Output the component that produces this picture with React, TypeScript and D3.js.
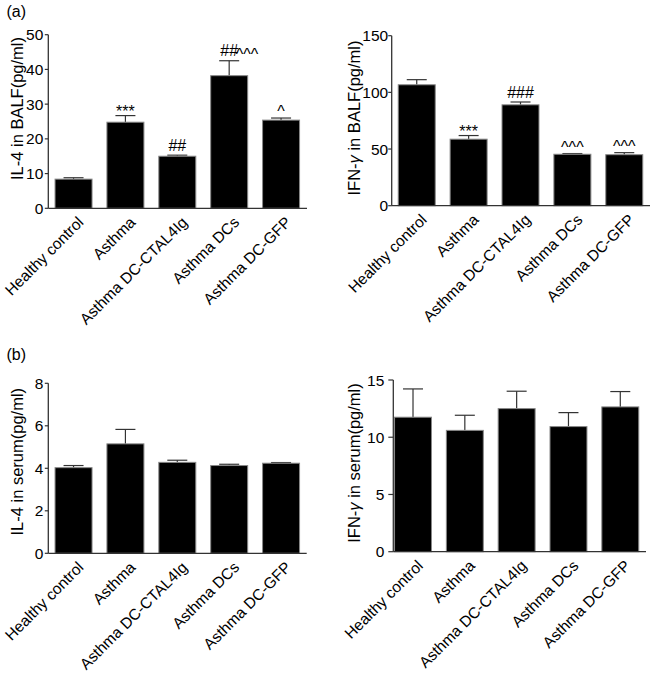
import React from 'react';
import * as d3 from 'd3';

const categories = ["Healthy control", "Asthma", "Asthma DC-CTAL4Ig", "Asthma DCs", "Asthma DC-GFP"];

const il4BalfMean = [8.4, 24.8, 15.0, 38.2, 25.4];
const il4BalfErr = [0.4, 1.9, 0.3, 4.3, 0.6];
const il4BalfMarks = ["", "***", "##", "##^^^", "^"];
const il4BalfTicks = [0, 10, 20, 30, 40, 50];

const ifnBalfMean = [106.7, 58.7, 89.0, 45.4, 45.0];
const ifnBalfErr = [4.5, 3.2, 2.5, 0.6, 1.8];
const ifnBalfMarks = ["", "***", "###", "^^^", "^^^"];
const ifnBalfTicks = [0, 50, 100, 150];

const il4SerumMean = [4.03, 5.15, 4.28, 4.13, 4.24];
const il4SerumErr = [0.1, 0.68, 0.1, 0.06, 0.03];
const il4SerumMarks = ["", "", "", "", ""];
const il4SerumTicks = [0, 2, 4, 6, 8];

const ifnSerumMean = [11.75, 10.6, 12.5, 10.93, 12.65];
const ifnSerumErr = [2.47, 1.32, 1.52, 1.22, 1.34];
const ifnSerumMarks = ["", "", "", "", ""];
const ifnSerumTicks = [0, 5, 10, 15];

const FONT = "'Liberation Sans', Arial, Helvetica, sans-serif";

type PanelProps = {
  axisX: number; axisEnd: number; y0: number; yTop: number;
  bandStart: number; bandEnd: number;
  ticks: number[]; means: number[]; errs: number[]; marks: string[];
  label: React.ReactNode; labelX: number; labelY: number;
  tickLen: number; tickGap: number;
};

function Marks({ text, x, base }: { text: string; x: number; base: number }) {
  if (!text) return null;
  const runs = text.match(/(\^+|\*+|#+)/g) || [];
  const shift = (r: string) => (r[0] === '*' ? 6 : r[0] === '^' ? 3.5 : 0);
  return (
    <text x={x} y={base} textAnchor="middle" fontSize={16} fontFamily={FONT} fill="#000">
      {runs.map((r, i) => (
        <tspan key={i} y={base + shift(r)}>{r}</tspan>
      ))}
    </text>
  );
}

function Panel(p: PanelProps) {
  const x = d3.scaleBand<string>().domain(categories).range([p.bandStart, p.bandEnd])
    .paddingInner(0.287).paddingOuter(0.1435);
  const max = p.ticks[p.ticks.length - 1];
  const y = d3.scaleLinear().domain([0, max]).range([p.y0, p.yTop]);
  const bw = x.bandwidth();
  return (
    <g>
      {categories.map((c, i) => {
        const cx = (x(c) as number) + bw / 2;
        const top = y(p.means[i]);
        const cap = y(p.means[i] + p.errs[i]);
        return (
          <g key={c}>
            <line x1={cx} x2={cx} y1={top} y2={cap} stroke="#333" strokeWidth={1.2} />
            <line x1={cx - 10} x2={cx + 10} y1={cap} y2={cap} stroke="#333" strokeWidth={1.2} />
            <rect x={x(c)} y={top} width={bw} height={p.y0 - top} fill="#000" stroke="#888" strokeWidth={1} />
            <Marks text={p.marks[i]} x={cx} base={cap - 4.5} />
            <text transform={`translate(${cx + 11},${p.y0 + 15}) rotate(-45)`} textAnchor="end"
              fontSize={15.5} fontFamily={FONT} fill="#000">{c}</text>
          </g>
        );
      })}
      <line x1={p.axisX} x2={p.axisEnd} y1={p.y0} y2={p.y0} stroke="#333" strokeWidth={1.3} />
      <line x1={p.axisX} x2={p.axisX} y1={p.y0} y2={y(max)} stroke="#333" strokeWidth={1.3} />
      {p.ticks.map(t => (
        <g key={t}>
          <line x1={p.axisX - p.tickLen} x2={p.axisX} y1={y(t)} y2={y(t)} stroke="#333" strokeWidth={1.2} />
          <text x={p.axisX - p.tickGap} y={y(t)} dy="0.36em" textAnchor="end" fontSize={15.5}
            fontFamily={FONT} fill="#000">{t}</text>
        </g>
      ))}
      <text transform={`translate(${p.labelX},${p.labelY}) rotate(-90)`} textAnchor="middle"
        fontSize={16.5} fontFamily={FONT} fill="#000">{p.label}</text>
    </g>
  );
}

export default function App() {
  return (
    <svg width={650} height={680} style={{ position: 'absolute', left: 0, top: 0, background: '#fff' }}>
      <rect width={650} height={680} fill="#fff" />
      <text x={6.5} y={17} fontSize={16} fontFamily={FONT}>(a)</text>
      <text x={6.5} y={359.5} fontSize={16} fontFamily={FONT}>(b)</text>
      <Panel axisX={48.3} axisEnd={307} y0={208.3} yTop={34.7} bandStart={47.6} bandEnd={307}
        ticks={il4BalfTicks} means={il4BalfMean} errs={il4BalfErr} marks={il4BalfMarks}
        label={"IL-4 in BALF(pg/ml)"} labelX={22.5} labelY={108.5} tickLen={3.5} tickGap={5} />
      <Panel axisX={391.7} axisEnd={650} y0={205.7} yTop={35.7} bandStart={390.8} bandEnd={650.2}
        ticks={ifnBalfTicks} means={ifnBalfMean} errs={ifnBalfErr} marks={ifnBalfMarks}
        label={<>IFN-<tspan fontStyle="italic">γ</tspan> in BALF(pg/ml)</>} labelX={360} labelY={118} tickLen={3.5} tickGap={3.5} />
      <Panel axisX={48.3} axisEnd={306.7} y0={553.3} yTop={383.3} bandStart={47.6} bandEnd={307}
        ticks={il4SerumTicks} means={il4SerumMean} errs={il4SerumErr} marks={il4SerumMarks}
        label={"IL-4 in serum(pg/ml)"} labelX={22.5} labelY={461.7} tickLen={3.5} tickGap={5} />
      <Panel axisX={393.3} axisEnd={646} y0={551.7} yTop={380} bandStart={387.1} bandEnd={646.2}
        ticks={ifnSerumTicks} means={ifnSerumMean} errs={ifnSerumErr} marks={ifnSerumMarks}
        label={<>IFN-<tspan fontStyle="italic">γ</tspan> in serum(pg/ml)</>} labelX={360} labelY={463} tickLen={5} tickGap={9} />
    </svg>
  );
}
